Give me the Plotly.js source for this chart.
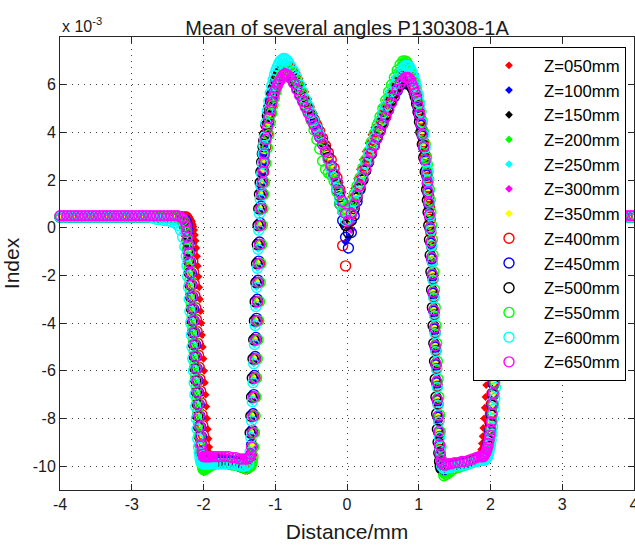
<!DOCTYPE html>
<html>
<head>
<meta charset="utf-8">
<script src="https://cdn.plot.ly/plotly-3.0.1.min.js"></script>
<style>html,body{margin:0;padding:0;background:#fff;}#chart{width:635px;height:547px;}</style>
</head>
<body>
<div id="chart"></div>
<script>
// Distance (mm), shared by all series
const distance = [
-4.00,-3.95,-3.90,-3.85,-3.80,-3.75,-3.70,-3.65,-3.60,-3.55,-3.50,-3.45,-3.40,-3.35,-3.30,-3.25,-3.20,-3.15,-3.10,-3.05,-3.00,-2.95,-2.90,-2.85,-2.80,-2.75,-2.70,-2.65,-2.60,-2.55,-2.50,-2.45,-2.40,
-2.36,-2.32,-2.29,-2.26,-2.24,-2.23,-2.22,-2.21,-2.20,-2.19,-2.18,-2.17,-2.16,-2.15,-2.14,-2.13,-2.12,-2.11,-2.10,-2.09,-2.08,-2.07,-2.06,-2.05,-2.04,-2.03,-2.02,-2.01,-2.00,-1.99,-1.98,-1.97,-1.96,-1.95,-1.94,-1.93,-1.92,-1.91,-1.90,
-1.87,-1.83,-1.79,-1.75,-1.70,-1.65,-1.60,-1.55,-1.50,-1.46,-1.42,-1.39,-1.37,
-1.35,-1.34,-1.33,-1.32,-1.31,-1.30,-1.29,-1.28,-1.27,-1.26,-1.25,-1.24,-1.23,-1.22,-1.21,-1.20,-1.19,-1.18,-1.17,-1.16,-1.15,-1.13,-1.11,-1.09,-1.07,-1.05,-1.03,-1.01,-0.99,-0.97,-0.95,-0.93,-0.91,-0.89,-0.87,-0.85,-0.83,-0.81,
-0.78,-0.74,-0.70,-0.66,-0.62,-0.58,-0.54,-0.50,-0.46,-0.42,-0.38,-0.34,-0.30,-0.26,-0.22,-0.18,-0.14,-0.10,-0.06,-0.02,
0.02,0.06,0.10,0.14,0.18,0.22,0.26,0.30,0.34,0.38,0.42,0.46,0.50,0.54,0.58,0.62,0.66,0.70,0.74,0.78,
0.81,0.83,0.85,0.87,0.89,0.91,0.93,0.95,0.97,0.99,1.01,1.03,1.05,1.07,1.09,1.11,1.12,1.13,1.14,1.15,1.16,1.17,1.18,1.19,1.20,1.21,1.22,1.23,1.24,1.25,1.26,1.27,1.28,1.29,1.30,1.31,1.32,
1.35,1.38,1.41,1.45,1.50,1.55,1.60,1.65,1.70,1.75,1.80,1.84,
1.87,1.88,1.89,1.90,1.91,1.92,1.93,1.94,1.95,1.96,1.97,1.98,1.99,2.00,2.01,2.02,2.03,2.04,2.05,2.06,2.07,2.08,2.09,2.10,2.11,2.12,2.13,2.14,2.15,2.16,2.17,2.18,2.19,2.20,2.21,
2.25,2.30,2.40,2.60,2.80,3.00,3.20,3.40,3.60,3.80,3.85,3.90,3.95,4.00
];

// Index values (x 10^-3), one array per Z position
const z050 = [
0.45,0.45,0.45,0.45,0.45,0.45,0.45,0.45,0.45,0.45,0.45,0.45,0.45,0.45,0.45,0.45,0.45,0.45,0.45,0.45,0.45,0.45,0.45,0.45,0.45,0.45,0.45,0.45,0.45,0.45,0.45,0.45,0.45,
0.45,0.45,0.45,0.45,0.45,0.45,0.45,0.45,0.4,0.4,0.35,0.3,0.25,0.15,0.05,-0.1,-0.3,-0.55,-0.85,-1.2,-1.6,-2.05,-2.5,-3.0,-3.5,-4.0,-4.5,-5.0,-5.5,-6.0,-6.5,-7.0,-7.5,-8.0,-8.45,-8.85,-9.2,-9.45,-9.6,
-9.75,-9.8,-9.8,-9.8,-9.8,-9.85,-9.9,-9.95,-10.0,-10.1,-10.2,-10.2,-10.1,
-10.0,-9.85,-9.6,-9.3,-8.9,-8.4,-7.8,-7.1,-6.3,-5.5,-4.7,-3.9,-3.1,-2.3,-1.5,-0.7,0.05,0.7,1.3,1.8,2.25,3.0,3.6,4.1,4.55,4.95,5.3,5.6,5.85,6.05,6.25,6.4,6.55,6.65,6.75,6.8,6.85,6.85,
6.85,6.7,6.5,6.25,6.0,5.7,5.4,5.1,4.8,4.5,4.2,3.9,3.6,3.3,3.0,2.65,2.3,1.9,1.5,1.1,
1.0,1.3,1.65,2.05,2.45,2.85,3.2,3.55,3.9,4.2,4.5,4.8,5.1,5.35,5.6,5.85,6.05,6.25,6.4,6.5,
6.55,6.55,6.55,6.5,6.45,6.35,6.25,6.1,5.9,5.65,5.35,5.0,4.6,4.15,3.65,3.1,2.8,2.45,2.05,1.6,1.1,0.55,-0.05,-0.7,-1.4,-2.15,-2.9,-3.65,-4.4,-5.15,-5.9,-6.65,-7.4,-8.1,-8.75,-9.3,-9.7,
-10.0,-10.05,-10.0,-9.95,-9.9,-9.9,-9.85,-9.8,-9.75,-9.7,-9.6,-9.5,
-9.3,-9.05,-8.75,-8.4,-8.0,-7.55,-7.1,-6.6,-6.1,-5.6,-5.1,-4.6,-4.1,-3.6,-3.1,-2.6,-2.1,-1.6,-1.15,-0.75,-0.4,-0.1,0.15,0.3,0.4,0.45,0.45,0.45,0.45,0.45,0.45,0.45,0.45,0.45,0.45,
0.45,0.45,0.45,0.45,0.45,0.45,0.45,0.45,0.45,0.45,0.45,0.45,0.45,0.45
];
const z100 = [
0.45,0.45,0.45,0.45,0.45,0.45,0.45,0.45,0.45,0.45,0.45,0.45,0.45,0.45,0.45,0.45,0.45,0.45,0.45,0.45,0.45,0.45,0.45,0.45,0.45,0.45,0.45,0.45,0.45,0.45,0.45,0.45,0.45,
0.45,0.45,0.4,0.3,0.1,-0.1,-0.35,-0.65,-1.0,-1.45,-1.9,-2.4,-2.9,-3.4,-3.9,-4.4,-4.9,-5.4,-5.9,-6.4,-6.9,-7.4,-7.9,-8.35,-8.75,-9.1,-9.35,-9.55,-9.65,-9.7,-9.7,-9.7,-9.7,-9.7,-9.7,-9.7,-9.7,-9.7,-9.7,
-9.75,-9.75,-9.75,-9.75,-9.8,-9.8,-9.85,-9.9,-9.95,-10.0,-10.05,-10.05,-9.95,
-9.7,-9.5,-9.1,-8.5,-7.8,-7.0,-6.2,-5.4,-4.6,-3.8,-3.0,-2.2,-1.4,-0.6,0.2,0.9,1.5,2.0,2.45,2.85,3.2,3.8,4.3,4.7,5.05,5.35,5.6,5.8,5.95,6.1,6.2,6.3,6.35,6.4,6.45,6.45,6.4,6.35,
6.3,6.1,5.85,5.6,5.35,5.1,4.85,4.6,4.35,4.1,3.8,3.5,3.2,2.85,2.5,2.1,1.6,1.0,0.1,-0.6,
-0.4,0.2,0.75,1.2,1.65,2.05,2.45,2.8,3.15,3.5,3.8,4.1,4.4,4.7,5.0,5.3,5.55,5.8,6.0,6.15,
6.25,6.25,6.25,6.2,6.1,5.95,5.8,5.6,5.35,5.05,4.7,4.3,3.85,3.35,2.8,2.2,1.85,1.45,1.0,0.5,-0.05,-0.65,-1.3,-2.0,-2.75,-3.5,-4.25,-5.0,-5.75,-6.5,-7.25,-7.95,-8.6,-9.15,-9.6,-9.9,-10.05,
-10.15,-10.1,-10.05,-10.0,-9.95,-9.95,-9.9,-9.9,-9.85,-9.8,-9.75,-9.7,
-9.65,-9.65,-9.65,-9.6,-9.55,-9.5,-9.45,-9.35,-9.25,-9.1,-8.95,-8.75,-8.5,-8.2,-7.85,-7.45,-7.0,-6.55,-6.05,-5.55,-5.05,-4.55,-4.05,-3.55,-3.05,-2.55,-2.05,-1.55,-1.1,-0.65,-0.25,0.05,0.25,0.4,0.45,
0.45,0.45,0.45,0.45,0.45,0.45,0.45,0.45,0.45,0.45,0.45,0.45,0.45,0.45
];
const z150 = [
0.45,0.45,0.45,0.45,0.45,0.45,0.45,0.45,0.45,0.45,0.45,0.45,0.45,0.45,0.45,0.45,0.45,0.45,0.45,0.45,0.45,0.45,0.45,0.45,0.45,0.45,0.45,0.45,0.45,0.45,0.45,0.45,0.45,
0.45,0.45,0.4,0.2,-0.05,-0.25,-0.55,-0.95,-1.4,-1.9,-2.4,-2.9,-3.4,-3.9,-4.4,-4.9,-5.4,-5.9,-6.4,-6.9,-7.4,-7.9,-8.35,-8.75,-9.1,-9.4,-9.6,-9.75,-9.8,-9.85,-9.85,-9.85,-9.85,-9.85,-9.85,-9.85,-9.85,-9.85,-9.85,
-9.85,-9.85,-9.85,-9.85,-9.85,-9.9,-9.9,-9.95,-10.0,-10.05,-10.1,-10.1,-10.0,
-9.8,-9.6,-9.2,-8.6,-7.9,-7.1,-6.3,-5.5,-4.7,-3.9,-3.1,-2.3,-1.5,-0.7,0.1,0.8,1.4,1.9,2.35,2.75,3.1,3.75,4.3,4.75,5.1,5.4,5.65,5.85,6.05,6.2,6.35,6.45,6.55,6.6,6.65,6.65,6.6,6.55,
6.45,6.25,6.0,5.75,5.5,5.25,5.0,4.75,4.5,4.2,3.9,3.6,3.3,2.95,2.6,2.2,1.8,1.3,0.7,0.2,
0.0,0.4,0.85,1.25,1.6,1.95,2.3,2.65,3.0,3.3,3.6,3.9,4.2,4.5,4.8,5.1,5.35,5.6,5.8,5.95,
5.95,5.95,5.9,5.85,5.75,5.6,5.45,5.25,5.0,4.7,4.35,3.95,3.5,3.0,2.45,1.9,1.6,1.2,0.8,0.3,-0.25,-0.85,-1.5,-2.2,-2.95,-3.7,-4.45,-5.2,-5.95,-6.7,-7.45,-8.15,-8.8,-9.35,-9.75,-10.0,-10.1,
-10.1,-10.1,-10.05,-10.05,-10.0,-10.0,-9.95,-9.9,-9.85,-9.8,-9.75,-9.7,
-9.65,-9.65,-9.65,-9.65,-9.6,-9.55,-9.5,-9.45,-9.35,-9.25,-9.1,-8.95,-8.75,-8.5,-8.2,-7.85,-7.45,-7.0,-6.55,-6.05,-5.55,-5.05,-4.55,-4.05,-3.55,-3.05,-2.55,-2.05,-1.55,-1.1,-0.65,-0.25,0.05,0.25,0.4,
0.45,0.45,0.45,0.45,0.45,0.45,0.45,0.45,0.45,0.45,0.45,0.45,0.45,0.45
];
const z200 = [
0.45,0.45,0.45,0.45,0.45,0.45,0.45,0.45,0.45,0.45,0.45,0.45,0.45,0.45,0.45,0.45,0.45,0.45,0.45,0.45,0.45,0.45,0.45,0.45,0.45,0.45,0.45,0.45,0.45,0.45,0.45,0.45,0.45,
0.45,0.4,0.3,0.1,-0.2,-0.5,-0.85,-1.25,-1.7,-2.2,-2.7,-3.2,-3.7,-4.2,-4.7,-5.2,-5.7,-6.2,-6.7,-7.2,-7.7,-8.2,-8.7,-9.1,-9.45,-9.75,-9.95,-10.1,-10.15,-10.15,-10.15,-10.1,-10.1,-10.05,-10.05,-10.0,-10.0,-10.0,-9.95,
-9.95,-9.9,-9.9,-9.9,-9.9,-9.9,-9.95,-9.95,-10.0,-10.05,-10.1,-10.1,-10.0,
-9.9,-9.8,-9.6,-9.2,-8.6,-7.9,-7.1,-6.3,-5.5,-4.7,-3.9,-3.1,-2.3,-1.5,-0.7,0.1,0.8,1.4,1.9,2.35,2.75,3.4,3.95,4.4,4.8,5.15,5.45,5.7,5.9,6.1,6.25,6.4,6.5,6.6,6.65,6.7,6.7,6.65,
6.65,6.5,6.3,6.05,5.8,5.55,5.3,5.05,4.75,4.4,4.0,3.55,3.0,2.5,2.3,2.1,1.7,1.2,0.85,0.8,
0.9,1.1,1.4,1.75,2.1,2.5,2.85,3.2,3.6,3.95,4.3,4.65,5.0,5.35,5.7,6.0,6.3,6.6,6.85,7.0,
7.0,6.95,6.85,6.7,6.55,6.35,6.15,5.9,5.6,5.3,4.9,4.5,4.0,3.5,2.95,2.35,2.0,1.6,1.15,0.65,0.1,-0.5,-1.15,-1.85,-2.6,-3.35,-4.1,-4.85,-5.6,-6.35,-7.1,-7.85,-8.55,-9.2,-9.75,-10.15,-10.35,
-10.4,-10.35,-10.3,-10.2,-10.1,-10.05,-10.0,-9.95,-9.9,-9.85,-9.8,-9.75,
-9.7,-9.7,-9.7,-9.7,-9.7,-9.65,-9.6,-9.55,-9.45,-9.35,-9.25,-9.1,-8.9,-8.7,-8.45,-8.15,-7.8,-7.4,-6.95,-6.5,-6.0,-5.5,-5.0,-4.5,-4.0,-3.5,-3.0,-2.5,-2.0,-1.5,-1.05,-0.6,-0.2,0.1,0.3,
0.45,0.45,0.45,0.45,0.45,0.45,0.45,0.45,0.45,0.45,0.45,0.45,0.45,0.45
];
const z250 = [
0.45,0.45,0.45,0.45,0.45,0.45,0.45,0.45,0.45,0.45,0.45,0.45,0.45,0.45,0.45,0.45,0.45,0.45,0.45,0.45,0.45,0.45,0.45,0.45,0.45,0.45,0.4,0.35,0.35,0.3,0.3,0.25,0.2,
0.2,0.05,-0.2,-0.55,-0.85,-1.2,-1.6,-2.05,-2.5,-3.0,-3.5,-4.0,-4.5,-5.0,-5.5,-6.0,-6.5,-7.0,-7.5,-8.0,-8.45,-8.85,-9.2,-9.45,-9.65,-9.8,-9.85,-9.9,-9.9,-9.9,-9.9,-9.9,-9.9,-9.9,-9.9,-9.9,-9.9,-9.9,-9.9,
-9.9,-9.9,-9.9,-9.9,-9.9,-9.9,-9.9,-9.95,-9.95,-10.0,-10.0,-9.95,-9.9,
-9.4,-8.8,-8.1,-7.3,-6.5,-5.7,-4.9,-4.1,-3.3,-2.5,-1.7,-0.9,-0.1,0.6,1.2,1.75,2.25,2.7,3.1,3.45,3.8,4.4,4.9,5.3,5.65,5.95,6.2,6.4,6.55,6.7,6.8,6.9,6.95,6.95,6.95,6.9,6.85,6.8,
6.7,6.5,6.25,5.95,5.65,5.35,5.05,4.75,4.45,4.15,3.85,3.5,3.15,2.8,2.45,2.05,1.6,1.15,0.65,0.3,
0.35,0.7,1.1,1.5,1.9,2.3,2.7,3.05,3.4,3.75,4.1,4.45,4.8,5.1,5.4,5.7,6.0,6.25,6.45,6.6,
6.7,6.7,6.7,6.65,6.55,6.4,6.25,6.05,5.8,5.5,5.15,4.75,4.3,3.8,3.25,2.65,2.3,1.9,1.45,0.95,0.4,-0.2,-0.85,-1.55,-2.3,-3.05,-3.8,-4.55,-5.3,-6.05,-6.8,-7.55,-8.25,-8.9,-9.45,-9.8,-10.0,
-10.1,-10.1,-10.05,-10.05,-10.0,-10.0,-9.95,-9.95,-9.9,-9.85,-9.8,-9.75,
-9.75,-9.75,-9.75,-9.75,-9.75,-9.75,-9.7,-9.7,-9.65,-9.6,-9.5,-9.4,-9.25,-9.1,-8.9,-8.65,-8.35,-8.0,-7.6,-7.15,-6.7,-6.2,-5.7,-5.2,-4.7,-4.2,-3.7,-3.2,-2.7,-2.2,-1.7,-1.2,-0.75,-0.35,0.0,
0.2,0.35,0.45,0.45,0.45,0.45,0.45,0.45,0.45,0.45,0.45,0.45,0.45,0.45
];
const z300 = [
0.5,0.5,0.5,0.5,0.5,0.5,0.5,0.5,0.5,0.5,0.5,0.5,0.5,0.5,0.5,0.5,0.5,0.5,0.5,0.5,0.5,0.5,0.5,0.5,0.5,0.5,0.5,0.5,0.5,0.5,0.5,0.5,0.5,
0.5,0.5,0.45,0.35,0.2,0.05,-0.15,-0.4,-0.7,-1.05,-1.45,-1.9,-2.4,-2.9,-3.4,-3.9,-4.4,-4.9,-5.4,-5.9,-6.4,-6.9,-7.4,-7.9,-8.35,-8.75,-9.1,-9.35,-9.5,-9.6,-9.6,-9.6,-9.6,-9.6,-9.6,-9.6,-9.6,-9.6,-9.6,
-9.6,-9.6,-9.6,-9.6,-9.6,-9.6,-9.65,-9.65,-9.7,-9.7,-9.7,-9.7,-9.65,
-9.6,-9.5,-9.2,-8.6,-7.9,-7.1,-6.3,-5.5,-4.7,-3.9,-3.1,-2.3,-1.5,-0.7,0.1,0.8,1.4,1.9,2.35,2.75,3.1,3.7,4.2,4.6,4.95,5.25,5.5,5.7,5.85,6.0,6.1,6.2,6.3,6.4,6.45,6.45,6.4,6.35,
6.25,6.05,5.8,5.55,5.3,5.05,4.8,4.55,4.3,4.05,3.8,3.5,3.2,2.9,2.6,2.25,1.9,1.5,1.1,0.6,
0.0,-0.1,0.6,1.2,1.65,2.05,2.4,2.75,3.1,3.4,3.7,4.0,4.3,4.6,4.9,5.2,5.5,5.75,6.0,6.15,
6.3,6.3,6.3,6.25,6.15,6.0,5.85,5.65,5.4,5.1,4.75,4.35,3.9,3.4,2.85,2.25,1.9,1.5,1.05,0.55,0.0,-0.6,-1.25,-1.95,-2.7,-3.45,-4.2,-4.95,-5.7,-6.45,-7.2,-7.9,-8.55,-9.1,-9.5,-9.75,-9.85,
-9.95,-9.95,-9.9,-9.9,-9.85,-9.85,-9.8,-9.8,-9.75,-9.7,-9.65,-9.6,
-9.6,-9.6,-9.6,-9.6,-9.55,-9.5,-9.45,-9.4,-9.3,-9.2,-9.05,-8.9,-8.7,-8.45,-8.15,-7.8,-7.4,-6.95,-6.5,-6.0,-5.5,-5.0,-4.5,-4.0,-3.5,-3.0,-2.5,-2.0,-1.5,-1.0,-0.55,-0.15,0.15,0.35,0.45,
0.5,0.5,0.5,0.5,0.5,0.5,0.5,0.5,0.5,0.5,0.5,0.5,0.5,0.5
];
const z350 = [
0.45,0.45,0.45,0.45,0.45,0.45,0.45,0.45,0.45,0.45,0.45,0.45,0.45,0.45,0.45,0.45,0.45,0.45,0.45,0.45,0.45,0.45,0.45,0.45,0.45,0.45,0.45,0.45,0.45,0.45,0.45,0.45,0.45,
0.45,0.4,0.35,0.15,-0.1,-0.35,-0.65,-1.0,-1.45,-1.9,-2.4,-2.9,-3.4,-3.9,-4.4,-4.9,-5.4,-5.9,-6.4,-6.9,-7.4,-7.9,-8.35,-8.75,-9.1,-9.35,-9.55,-9.65,-9.75,-9.75,-9.75,-9.75,-9.75,-9.75,-9.75,-9.75,-9.75,-9.75,-9.75,
-9.75,-9.75,-9.75,-9.75,-9.75,-9.75,-9.8,-9.8,-9.85,-9.9,-9.95,-9.95,-9.85,
-9.7,-9.5,-9.1,-8.5,-7.8,-7.0,-6.2,-5.4,-4.6,-3.8,-3.0,-2.2,-1.4,-0.6,0.2,0.9,1.5,2.0,2.45,2.85,3.2,3.8,4.3,4.7,5.05,5.35,5.6,5.8,5.95,6.1,6.2,6.3,6.35,6.4,6.45,6.45,6.4,6.35,
6.25,6.05,5.8,5.55,5.3,5.05,4.8,4.55,4.3,4.05,3.8,3.5,3.2,2.9,2.6,2.25,1.9,1.5,1.1,0.6,
0.3,0.6,0.95,1.35,1.75,2.1,2.45,2.8,3.15,3.45,3.75,4.05,4.35,4.65,4.95,5.25,5.55,5.8,6.05,6.2,
6.3,6.3,6.3,6.25,6.15,6.0,5.85,5.65,5.4,5.1,4.75,4.35,3.9,3.4,2.85,2.25,1.9,1.5,1.05,0.55,0.0,-0.6,-1.25,-1.95,-2.7,-3.45,-4.2,-4.95,-5.7,-6.45,-7.2,-7.9,-8.55,-9.1,-9.5,-9.75,-9.85,
-9.95,-9.95,-9.9,-9.9,-9.85,-9.85,-9.8,-9.8,-9.75,-9.7,-9.65,-9.6,
-9.6,-9.6,-9.6,-9.6,-9.55,-9.5,-9.45,-9.4,-9.3,-9.2,-9.05,-8.9,-8.7,-8.45,-8.15,-7.8,-7.4,-6.95,-6.5,-6.0,-5.5,-5.0,-4.5,-4.0,-3.5,-3.0,-2.5,-2.0,-1.5,-1.0,-0.55,-0.15,0.15,0.35,0.45,
0.45,0.45,0.45,0.45,0.45,0.45,0.45,0.45,0.45,0.45,0.45,0.45,0.45,0.45
];
const z400 = [
0.45,0.45,0.45,0.45,0.45,0.45,0.45,0.45,0.45,0.45,0.45,0.45,0.45,0.45,0.45,0.45,0.45,0.45,0.45,0.45,0.45,0.45,0.45,0.45,0.45,0.45,0.45,0.45,0.45,0.45,0.45,0.45,0.45,
0.45,0.45,0.45,0.45,0.45,0.4,0.35,0.25,0.1,-0.1,-0.35,-0.65,-1.0,-1.4,-1.85,-2.35,-2.85,-3.35,-3.85,-4.35,-4.85,-5.35,-5.85,-6.35,-6.85,-7.35,-7.85,-8.3,-8.7,-9.05,-9.3,-9.5,-9.6,-9.65,-9.7,-9.7,-9.7,-9.7,-9.7,
-9.7,-9.7,-9.7,-9.7,-9.7,-9.75,-9.8,-9.8,-9.85,-9.9,-10.0,-10.05,-9.95,
-9.85,-9.7,-9.5,-9.2,-8.6,-7.9,-7.1,-6.3,-5.5,-4.7,-3.9,-3.1,-2.3,-1.5,-0.7,0.1,0.8,1.4,1.9,2.35,2.75,3.4,3.95,4.4,4.8,5.15,5.45,5.7,5.9,6.05,6.2,6.3,6.4,6.45,6.5,6.5,6.5,6.45,
6.4,6.25,6.05,5.8,5.55,5.3,5.05,4.8,4.55,4.3,4.05,3.75,3.45,3.15,2.85,2.5,2.1,1.6,-0.75,-1.6,
0.2,0.55,0.95,1.4,1.8,2.2,2.6,2.95,3.3,3.65,4.0,4.3,4.6,4.9,5.2,5.5,5.75,6.0,6.2,6.35,
6.4,6.4,6.4,6.35,6.3,6.2,6.05,5.85,5.6,5.3,4.95,4.55,4.1,3.6,3.05,2.45,2.1,1.7,1.3,0.85,0.35,-0.2,-0.8,-1.45,-2.15,-2.9,-3.65,-4.4,-5.15,-5.9,-6.65,-7.4,-8.1,-8.75,-9.3,-9.7,-9.9,
-10.0,-10.0,-9.95,-9.95,-9.9,-9.9,-9.85,-9.85,-9.8,-9.75,-9.7,-9.65,
-9.6,-9.6,-9.55,-9.5,-9.45,-9.4,-9.3,-9.2,-9.05,-8.9,-8.7,-8.45,-8.15,-7.8,-7.4,-6.95,-6.5,-6.0,-5.5,-5.0,-4.5,-4.0,-3.5,-3.0,-2.5,-2.0,-1.5,-1.0,-0.55,-0.15,0.15,0.35,0.45,0.45,0.45,
0.45,0.45,0.45,0.45,0.45,0.45,0.45,0.45,0.45,0.45,0.45,0.45,0.45,0.45
];
const z450 = [
0.45,0.45,0.45,0.45,0.45,0.45,0.45,0.45,0.45,0.45,0.45,0.45,0.45,0.45,0.45,0.45,0.45,0.45,0.45,0.45,0.45,0.45,0.45,0.45,0.45,0.45,0.45,0.45,0.45,0.45,0.45,0.45,0.45,
0.45,0.45,0.4,0.35,0.25,0.15,-0.1,-0.35,-0.65,-1.0,-1.45,-1.9,-2.4,-2.9,-3.4,-3.9,-4.4,-4.9,-5.4,-5.9,-6.4,-6.9,-7.4,-7.9,-8.35,-8.75,-9.1,-9.35,-9.55,-9.65,-9.75,-9.75,-9.75,-9.75,-9.75,-9.75,-9.75,-9.75,-9.75,
-9.75,-9.75,-9.75,-9.75,-9.75,-9.75,-9.8,-9.8,-9.85,-9.9,-9.95,-9.95,-9.85,
-9.7,-9.5,-9.1,-8.5,-7.8,-7.0,-6.2,-5.4,-4.6,-3.8,-3.0,-2.2,-1.4,-0.6,0.2,0.9,1.5,2.0,2.45,2.85,3.2,3.8,4.3,4.7,5.05,5.35,5.6,5.8,5.95,6.1,6.2,6.3,6.35,6.4,6.45,6.45,6.4,6.35,
6.3,6.1,5.85,5.6,5.35,5.1,4.85,4.6,4.35,4.1,3.8,3.5,3.2,2.85,2.5,2.1,1.6,1.0,0.3,-0.4,
-0.85,-0.2,0.5,1.1,1.6,2.0,2.4,2.75,3.1,3.45,3.75,4.05,4.35,4.65,4.95,5.25,5.5,5.75,6.0,6.15,
6.25,6.25,6.25,6.2,6.1,5.95,5.8,5.6,5.35,5.05,4.7,4.3,3.85,3.35,2.8,2.2,1.85,1.45,1.0,0.5,-0.05,-0.65,-1.3,-2.0,-2.75,-3.5,-4.25,-5.0,-5.75,-6.5,-7.25,-7.95,-8.6,-9.15,-9.6,-9.9,-10.05,
-10.15,-10.1,-10.05,-10.0,-9.95,-9.95,-9.9,-9.9,-9.85,-9.8,-9.75,-9.7,
-9.65,-9.65,-9.65,-9.6,-9.55,-9.5,-9.45,-9.35,-9.25,-9.1,-8.95,-8.75,-8.5,-8.2,-7.85,-7.45,-7.0,-6.55,-6.05,-5.55,-5.05,-4.55,-4.05,-3.55,-3.05,-2.55,-2.05,-1.55,-1.1,-0.65,-0.25,0.05,0.25,0.4,0.45,
0.45,0.45,0.45,0.45,0.45,0.45,0.45,0.45,0.45,0.45,0.45,0.45,0.45,0.45
];
const z500 = [
0.45,0.45,0.45,0.45,0.45,0.45,0.45,0.45,0.45,0.45,0.45,0.45,0.45,0.45,0.45,0.45,0.45,0.45,0.45,0.45,0.45,0.45,0.45,0.45,0.45,0.45,0.45,0.45,0.45,0.45,0.45,0.45,0.45,
0.45,0.4,0.3,0.05,-0.25,-0.55,-0.95,-1.4,-1.9,-2.4,-2.9,-3.4,-3.9,-4.4,-4.9,-5.4,-5.9,-6.4,-6.9,-7.4,-7.9,-8.35,-8.75,-9.1,-9.4,-9.6,-9.75,-9.8,-9.85,-9.85,-9.85,-9.85,-9.85,-9.85,-9.85,-9.85,-9.85,-9.85,-9.85,
-9.85,-9.85,-9.85,-9.85,-9.85,-9.9,-9.9,-9.95,-10.0,-10.05,-10.1,-10.1,-10.0,
-8.6,-7.9,-7.1,-6.3,-5.5,-4.7,-3.9,-3.1,-2.3,-1.5,-0.7,0.1,0.8,1.4,1.9,2.35,2.75,3.1,3.4,3.65,3.9,4.3,4.7,5.05,5.35,5.6,5.85,6.05,6.2,6.35,6.45,6.55,6.6,6.65,6.65,6.6,6.55,6.5,
6.45,6.25,6.0,5.75,5.5,5.25,5.0,4.75,4.5,4.2,3.9,3.6,3.3,2.95,2.6,2.2,1.8,1.3,0.7,0.1,
-0.2,0.3,0.8,1.25,1.65,2.0,2.4,2.75,3.1,3.45,3.8,4.1,4.45,4.75,5.05,5.35,5.65,5.9,6.15,6.3,
6.4,6.4,6.35,6.25,6.1,5.95,5.75,5.5,5.2,4.85,4.45,4.0,3.5,2.95,2.35,1.6,1.15,0.65,0.1,-0.5,-1.15,-1.85,-2.6,-3.35,-4.1,-4.85,-5.6,-6.35,-7.1,-7.8,-8.45,-9.0,-9.45,-9.8,-10.0,-10.1,-10.1,
-10.1,-10.1,-10.05,-10.05,-10.0,-10.0,-9.95,-9.9,-9.85,-9.8,-9.75,-9.7,
-9.65,-9.65,-9.65,-9.65,-9.6,-9.55,-9.5,-9.45,-9.35,-9.25,-9.1,-8.95,-8.75,-8.5,-8.2,-7.85,-7.45,-7.0,-6.55,-6.05,-5.55,-5.05,-4.55,-4.05,-3.55,-3.05,-2.55,-2.05,-1.55,-1.1,-0.65,-0.25,0.05,0.25,0.4,
0.45,0.45,0.45,0.45,0.45,0.45,0.45,0.45,0.45,0.45,0.45,0.45,0.45,0.45
];
const z550 = [
0.45,0.45,0.45,0.45,0.45,0.45,0.45,0.45,0.45,0.45,0.45,0.45,0.45,0.45,0.45,0.45,0.45,0.45,0.45,0.45,0.45,0.45,0.45,0.45,0.45,0.45,0.45,0.45,0.45,0.45,0.45,0.45,0.45,
0.45,0.4,0.3,0.1,-0.2,-0.5,-0.85,-1.25,-1.7,-2.2,-2.7,-3.2,-3.7,-4.2,-4.7,-5.2,-5.7,-6.2,-6.7,-7.2,-7.7,-8.2,-8.7,-9.1,-9.45,-9.75,-9.95,-10.1,-10.15,-10.15,-10.15,-10.1,-10.1,-10.05,-10.05,-10.0,-10.0,-10.0,-9.95,
-9.95,-9.9,-9.9,-9.9,-9.9,-9.9,-9.95,-9.95,-10.0,-10.05,-10.1,-10.1,-10.0,
-10.0,-10.0,-9.9,-9.8,-9.6,-9.2,-8.6,-7.9,-7.1,-6.3,-5.5,-4.7,-3.9,-3.1,-2.3,-1.5,-0.7,0.1,0.8,1.4,1.9,2.7,3.35,3.9,4.4,4.8,5.15,5.45,5.7,5.95,6.15,6.3,6.45,6.55,6.65,6.7,6.7,6.65,
6.6,6.4,6.15,5.85,5.55,5.2,4.85,4.5,4.1,3.7,3.3,2.8,2.45,2.3,2.2,1.95,1.5,1.0,0.75,0.8,
0.9,1.1,1.4,1.75,2.1,2.5,2.85,3.2,3.6,3.95,4.3,4.65,5.0,5.35,5.7,6.0,6.3,6.6,6.85,7.0,
7.0,6.95,6.85,6.7,6.55,6.4,6.2,6.0,5.75,5.5,5.2,4.85,4.45,4.0,3.5,2.95,2.65,2.35,2.0,1.6,1.15,0.65,0.1,-0.5,-1.15,-1.85,-2.6,-3.35,-4.1,-4.85,-5.6,-6.35,-7.1,-7.85,-8.55,-9.2,-9.75,
-10.4,-10.35,-10.3,-10.2,-10.1,-10.05,-10.0,-9.95,-9.9,-9.85,-9.8,-9.75,
-9.7,-9.7,-9.7,-9.7,-9.7,-9.65,-9.6,-9.55,-9.45,-9.35,-9.25,-9.1,-8.9,-8.7,-8.45,-8.15,-7.8,-7.4,-6.95,-6.5,-6.0,-5.5,-5.0,-4.5,-4.0,-3.5,-3.0,-2.5,-2.0,-1.5,-1.05,-0.6,-0.2,0.1,0.3,
0.45,0.45,0.45,0.45,0.45,0.45,0.45,0.45,0.45,0.45,0.45,0.45,0.45,0.45
];
const z600 = [
0.45,0.45,0.45,0.45,0.45,0.45,0.45,0.45,0.45,0.45,0.45,0.45,0.45,0.45,0.45,0.45,0.45,0.45,0.45,0.45,0.45,0.45,0.45,0.45,0.45,0.45,0.4,0.35,0.35,0.3,0.3,0.25,0.2,
0.1,-0.1,-0.4,-0.8,-1.2,-1.6,-2.05,-2.5,-3.0,-3.5,-4.0,-4.5,-5.0,-5.5,-6.0,-6.5,-7.0,-7.5,-8.0,-8.45,-8.85,-9.2,-9.45,-9.65,-9.8,-9.85,-9.9,-9.9,-9.9,-9.9,-9.9,-9.9,-9.9,-9.9,-9.9,-9.9,-9.9,-9.9,-9.9,
-9.9,-9.9,-9.9,-9.9,-9.9,-9.9,-9.9,-9.95,-9.95,-10.0,-10.0,-9.95,-9.9,
-9.4,-8.8,-8.1,-7.3,-6.5,-5.7,-4.9,-4.1,-3.3,-2.5,-1.7,-0.9,-0.1,0.6,1.2,1.75,2.25,2.7,3.1,3.45,3.8,4.4,4.9,5.3,5.65,5.95,6.2,6.4,6.6,6.75,6.9,7.0,7.05,7.1,7.1,7.05,7.0,6.9,
6.75,6.55,6.3,6.0,5.7,5.4,5.1,4.8,4.5,4.2,3.9,3.55,3.2,2.85,2.5,2.1,1.65,1.2,0.7,0.3,
0.35,0.7,1.1,1.5,1.9,2.3,2.7,3.05,3.4,3.75,4.1,4.45,4.8,5.1,5.4,5.7,6.0,6.25,6.5,6.7,
6.8,6.8,6.8,6.75,6.65,6.5,6.35,6.15,5.9,5.6,5.25,4.85,4.4,3.9,3.35,2.75,2.4,2.0,1.55,1.05,0.5,-0.1,-0.75,-1.45,-2.2,-2.95,-3.7,-4.45,-5.2,-5.95,-6.7,-7.45,-8.15,-8.8,-9.35,-9.75,-10.0,
-10.1,-10.1,-10.05,-10.05,-10.0,-10.0,-9.95,-9.95,-9.9,-9.85,-9.8,-9.75,
-9.75,-9.75,-9.75,-9.75,-9.75,-9.75,-9.7,-9.7,-9.65,-9.6,-9.5,-9.4,-9.25,-9.1,-8.9,-8.65,-8.35,-8.0,-7.6,-7.15,-6.7,-6.2,-5.7,-5.2,-4.7,-4.2,-3.7,-3.2,-2.7,-2.2,-1.7,-1.2,-0.75,-0.35,0.0,
0.2,0.35,0.45,0.45,0.45,0.45,0.45,0.45,0.45,0.45,0.45,0.45,0.45,0.45
];
const z650 = [
0.5,0.5,0.5,0.5,0.5,0.5,0.5,0.5,0.5,0.5,0.5,0.5,0.5,0.5,0.5,0.5,0.5,0.5,0.5,0.5,0.5,0.5,0.5,0.5,0.5,0.5,0.5,0.5,0.5,0.5,0.5,0.5,0.5,
0.5,0.45,0.4,0.25,0.05,-0.15,-0.4,-0.7,-1.05,-1.45,-1.9,-2.4,-2.9,-3.4,-3.9,-4.4,-4.9,-5.4,-5.9,-6.4,-6.9,-7.4,-7.9,-8.35,-8.75,-9.1,-9.35,-9.5,-9.6,-9.6,-9.6,-9.6,-9.6,-9.6,-9.6,-9.6,-9.6,-9.6,-9.6,
-9.6,-9.6,-9.6,-9.6,-9.6,-9.6,-9.65,-9.65,-9.7,-9.7,-9.7,-9.7,-9.65,
-9.6,-9.5,-9.2,-8.6,-7.9,-7.1,-6.3,-5.5,-4.7,-3.9,-3.1,-2.3,-1.5,-0.7,0.1,0.8,1.4,1.9,2.35,2.75,3.1,3.7,4.2,4.6,4.95,5.25,5.5,5.7,5.85,6.0,6.1,6.2,6.3,6.4,6.45,6.45,6.4,6.35,
6.25,6.05,5.8,5.55,5.3,5.05,4.8,4.55,4.3,4.05,3.8,3.5,3.2,2.9,2.6,2.25,1.9,1.5,1.1,0.6,
0.3,0.6,0.95,1.35,1.75,2.1,2.45,2.8,3.15,3.45,3.75,4.05,4.35,4.65,4.95,5.25,5.55,5.8,6.05,6.2,
6.3,6.3,6.3,6.25,6.15,6.0,5.85,5.65,5.4,5.1,4.75,4.35,3.9,3.4,2.85,2.25,1.9,1.5,1.05,0.55,0.0,-0.6,-1.25,-1.95,-2.7,-3.45,-4.2,-4.95,-5.7,-6.45,-7.2,-7.9,-8.55,-9.1,-9.5,-9.75,-9.85,
-9.95,-9.95,-9.9,-9.9,-9.85,-9.85,-9.8,-9.8,-9.75,-9.7,-9.65,-9.6,
-9.6,-9.6,-9.6,-9.6,-9.55,-9.5,-9.45,-9.4,-9.3,-9.2,-9.05,-8.9,-8.7,-8.45,-8.15,-7.8,-7.4,-6.95,-6.5,-6.0,-5.5,-5.0,-4.5,-4.0,-3.5,-3.0,-2.5,-2.0,-1.5,-1.0,-0.55,-0.15,0.15,0.35,0.45,
0.5,0.5,0.5,0.5,0.5,0.5,0.5,0.5,0.5,0.5,0.5,0.5,0.5,0.5
];

const seriesNames = ['Z=050mm','Z=100mm','Z=150mm','Z=200mm','Z=250mm','Z=300mm','Z=350mm',
                     'Z=400mm','Z=450mm','Z=500mm','Z=550mm','Z=600mm','Z=650mm'];
const seriesValues = [z050,z100,z150,z200,z250,z300,z350,z400,z450,z500,z550,z600,z650];
const seriesColors = ['#ff0000','#0000ff','#000000','#00ff00','#00ffff','#ff00ff','#ffff00',
                      '#ff0000','#0000ff','#000000','#00ff00','#00ffff','#ff00ff'];
const seriesFilled = [true,true,true,true,true,true,true,false,false,false,false,false,false];
const xTicks = [-4,-3,-2,-1,0,1,2,3,4];
const yTicks = [-10,-8,-6,-4,-2,0,2,4,6];

const traces = seriesNames.map((name, i) => ({
  type: 'scatter',
  mode: 'markers',
  name: name,
  x: distance,
  y: seriesValues[i],
  cliponaxis: false,
  marker: seriesFilled[i]
    ? {symbol: 'diamond', size: 6, color: seriesColors[i], line: {width: 0}}
    : {symbol: 'circle-open', size: 10, color: seriesColors[i], line: {width: 1.4, color: seriesColors[i]}}
}));

const axisCommon = {
  showline: true, linecolor: '#262626', linewidth: 1, mirror: 'ticks',
  ticks: 'inside', ticklen: 6, tickwidth: 1, tickcolor: '#262626',
  showgrid: true, gridcolor: 'rgba(0,0,0,0.75)', gridwidth: 1, griddash: '1px,5px',
  zeroline: false, fixedrange: true, ticklabeloverflow: 'allow',
  tickfont: {size: 16, color: '#1a1a1a'}
};

const layout = {
  width: 635, height: 547,
  margin: {l: 60, r: 1, t: 37, b: 57, pad: 0},
  paper_bgcolor: '#ffffff', plot_bgcolor: '#ffffff',
  font: {family: '"Liberation Sans", Arial, sans-serif', size: 16, color: '#1a1a1a'},
  title: {text: 'Mean of several angles P130308-1A', font: {size: 20, color: '#1a1a1a'},
          x: 0.5, xref: 'paper', xanchor: 'center', y: 0.949, yref: 'container', yanchor: 'middle'},
  xaxis: Object.assign({}, axisCommon, {
    range: [-4.0005, 4.0005], tickmode: 'array', tickvals: xTicks, ticktext: xTicks.map(String),
    title: {text: 'Distance/mm', font: {size: 21, color: '#1a1a1a'}, standoff: 12}
  }),
  yaxis: Object.assign({}, axisCommon, {
    range: [-11, 8], tickmode: 'array', tickvals: yTicks, ticktext: yTicks.map(String),
    title: {text: 'Index', font: {size: 21, color: '#1a1a1a'}, standoff: 8}
  }),
  showlegend: true,
  legend: {
    x: 0.7195, y: 0.978, xanchor: 'left', yanchor: 'top',
    bgcolor: '#ffffff', bordercolor: '#000000', borderwidth: 1,
    font: {size: 16.7, color: '#000000'}, itemwidth: 60,
    traceorder: 'normal'
  },
  annotations: [{
    text: 'x 10<sup>-3</sup>', xref: 'paper', yref: 'paper', x: 0, y: 1,
    xanchor: 'left', yanchor: 'bottom', showarrow: false, yshift: 0,
    font: {size: 16, color: '#1a1a1a'}
  }]
};

Plotly.newPlot('chart', traces, layout, {displayModeBar: false, staticPlot: true});
</script>
</body>
</html>
